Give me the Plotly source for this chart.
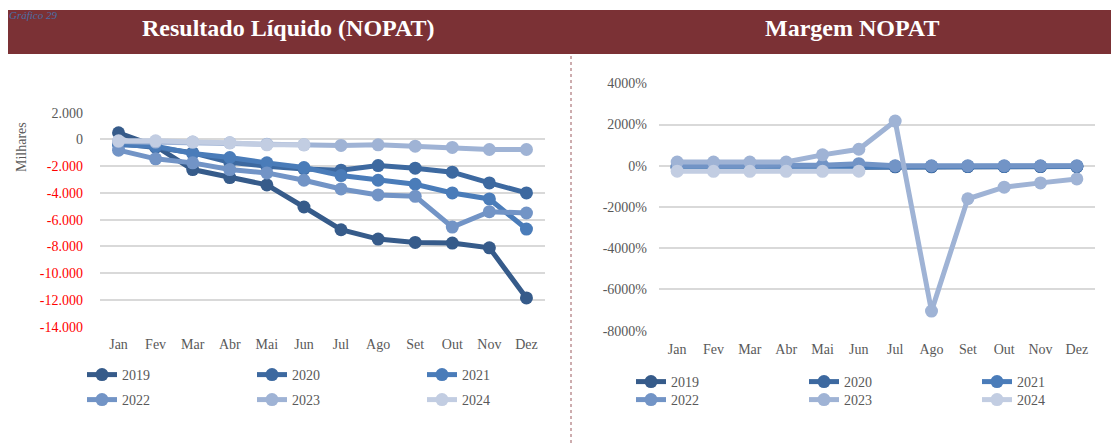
import plotly.graph_objects as go

months = ["Jan", "Fev", "Mar", "Abr", "Mai", "Jun", "Jul", "Ago", "Set", "Out", "Nov", "Dez"]
years = ["2019", "2020", "2021", "2022", "2023", "2024"]

# Resultado Líquido (NOPAT), milhares
nopat_2019 = [500, -500, -2250, -2850, -3400, -5050, -6750, -7450, -7700, -7750, -8100, -11850]
nopat_2020 = [-300, -600, -1000, -1700, -2000, -2200, -2300, -1950, -2150, -2450, -3250, -4000]
nopat_2021 = [-400, -500, -1050, -1350, -1750, -2100, -2700, -3050, -3350, -4000, -4450, -6700]
nopat_2022 = [-800, -1450, -1750, -2250, -2500, -3050, -3700, -4150, -4250, -6550, -5400, -5500]
nopat_2023 = [-150, -200, -200, -250, -350, -400, -450, -400, -500, -600, -750, -750]
nopat_2024 = [-100, -100, -200, -250, -400, -400, None, None, None, None, None, None]

# Margem NOPAT, %
margem_2019 = [-100, -90, -80, -80, -70, -60, -50, -50, -40, -40, -40, -40]
margem_2020 = [-60, -60, -50, -50, -50, -40, -30, -30, -30, -30, -30, -30]
margem_2021 = [-80, -70, -70, -60, -60, -50, -20, -20, -20, -20, -20, -20]
margem_2022 = [10, 0, 10, 20, 30, 100, 0, 0, 0, 0, 0, 0]
margem_2023 = [180, 180, 180, 180, 530, 800, 2170, -7050, -1600, -1040, -830, -640]
margem_2024 = [-260, -270, -270, -270, -270, -260, None, None, None, None, None, None]

left_ticks = [2000, 0, -2000, -4000, -6000, -8000, -10000, -12000, -14000]
left_ticklabels = ["2.000", "0", "-2.000", "-4.000", "-6.000", "-8.000", "-10.000", "-12.000", "-14.000"]
right_ticks = [4000, 2000, 0, -2000, -4000, -6000, -8000]
right_ticklabels = ["4000%", "2000%", "0%", "-2000%", "-4000%", "-6000%", "-8000%"]

colors = ["#365B8A", "#3D69A0", "#4A7CB9", "#7294C6", "#9FB3D5", "#C2CDE2"]

nopat = [nopat_2019, nopat_2020, nopat_2021, nopat_2022, nopat_2023, nopat_2024]
margem = [margem_2019, margem_2020, margem_2021, margem_2022, margem_2023, margem_2024]

OFF = 8  # page body margin
W, H = 1119 - OFF, 443 - OFF
FONT = "Liberation Serif"
GREY = "#595959"

fig = go.Figure()

for i, (yr, vals) in enumerate(zip(years, nopat)):
    fig.add_trace(go.Scatter(
        x=months, y=vals, name=yr, mode="lines+markers",
        line=dict(color=colors[i], width=5),
        marker=dict(color=colors[i], size=13),
        xaxis="x", yaxis="y",
        legend="legend" if i < 3 else "legend2",
        connectgaps=False,
    ))

for i, (yr, vals) in enumerate(zip(years, margem)):
    fig.add_trace(go.Scatter(
        x=months, y=vals, name=yr, mode="lines+markers",
        line=dict(color=colors[i], width=5),
        marker=dict(color=colors[i], size=13),
        xaxis="x2", yaxis="y2",
        legend="legend3" if i < 3 else "legend4",
        connectgaps=False,
    ))


def px_x(p):
    return (p - OFF) / W


def px_y(p):
    return 1 - (p - OFF) / H


left_tick_text = [
    (f'<span style="color:#FF0000">{t}</span>' if v < 0 else t)
    for v, t in zip(left_ticks, left_ticklabels)
]

axis_font = dict(family=FONT, size=14, color=GREY)

legend_common = dict(
    orientation="h", font=dict(family=FONT, size=14, color=GREY),
    bgcolor="rgba(0,0,0,0)", entrywidthmode="pixels",
    xanchor="left", yanchor="middle", tracegroupgap=0, itemclick=False,
)

fig.update_layout(
    width=W, height=H,
    margin=dict(l=0, r=0, t=0, b=0, autoexpand=False),
    paper_bgcolor="white", plot_bgcolor="white",
    showlegend=True,
    xaxis=dict(
        domain=[px_x(100), px_x(545)], type="category", range=[-0.5, 11.5],
        showgrid=False, zeroline=False, showline=False, ticks="",
        tickfont=axis_font, anchor="y", fixedrange=True, automargin=False,
        ticklabelstandoff=7,
    ),
    yaxis=dict(
        domain=[px_y(326.7), px_y(112.7)], range=[-14000, 2000],
        tickvals=left_ticks, ticktext=left_tick_text,
        showgrid=True, gridcolor="#D9D9D9", gridwidth=1.5,
        zeroline=False, showline=False, ticks="",
        tickfont=axis_font, anchor="x", fixedrange=True, automargin=False,
        ticklabelstandoff=16,
    ),
    xaxis2=dict(
        domain=[px_x(659), px_x(1095)], type="category", range=[-0.5, 11.5],
        showgrid=False, zeroline=False, showline=False, ticks="",
        tickfont=axis_font, anchor="y2", fixedrange=True, automargin=False,
        ticklabelstandoff=8,
    ),
    yaxis2=dict(
        domain=[px_y(330.7), px_y(83.3)], range=[-8000, 4000],
        tickvals=right_ticks, ticktext=right_ticklabels,
        showgrid=True, gridcolor="#D9D9D9", gridwidth=1.5,
        zeroline=False, showline=False, ticks="",
        tickfont=axis_font, anchor="x2", fixedrange=True, automargin=False,
        ticklabelstandoff=11,
    ),
    legend=dict(x=px_x(82), y=px_y(375), entrywidth=125, **legend_common),
    legend2=dict(x=px_x(82), y=px_y(400), entrywidth=125, **legend_common),
    legend3=dict(x=px_x(631), y=px_y(382), entrywidth=128, **legend_common),
    legend4=dict(x=px_x(631), y=px_y(400), entrywidth=128, **legend_common),
)

# Title banner
fig.add_shape(type="rect", xref="paper", yref="paper",
              x0=px_x(8), x1=1, y0=px_y(54), y1=px_y(10),
              fillcolor="#7B3135", line=dict(width=0), layer="below")
# dotted separator
fig.add_shape(type="line", xref="paper", yref="paper",
              x0=px_x(571), x1=px_x(571), y0=0, y1=px_y(54),
              line=dict(color="#9B5A5E", width=1, dash="dot"))

fig.add_annotation(text="<b>Resultado Líquido (NOPAT)</b>", xref="paper", yref="paper",
                   x=px_x(288), y=px_y(28), xanchor="center", yanchor="middle",
                   showarrow=False,
                   font=dict(family=FONT, size=24, color="white"))
fig.add_annotation(text="<b>Margem NOPAT</b>", xref="paper", yref="paper",
                   x=px_x(852), y=px_y(28), xanchor="center", yanchor="middle",
                   showarrow=False,
                   font=dict(family=FONT, size=24, color="white"))
fig.add_annotation(text="Milhares", xref="paper", yref="paper",
                   x=px_x(21), y=px_y(147), xanchor="center", yanchor="middle",
                   showarrow=False, textangle=-90,
                   font=dict(family=FONT, size=14, color=GREY))
fig.add_annotation(text="<i>Gráfico 29</i>", xref="paper", yref="paper",
                   x=0, y=1, xanchor="left", yanchor="top", showarrow=False,
                   borderpad=0,
                   font=dict(family=FONT, size=11, color="#4A6FA5"))

fig.write_html("out.html")
